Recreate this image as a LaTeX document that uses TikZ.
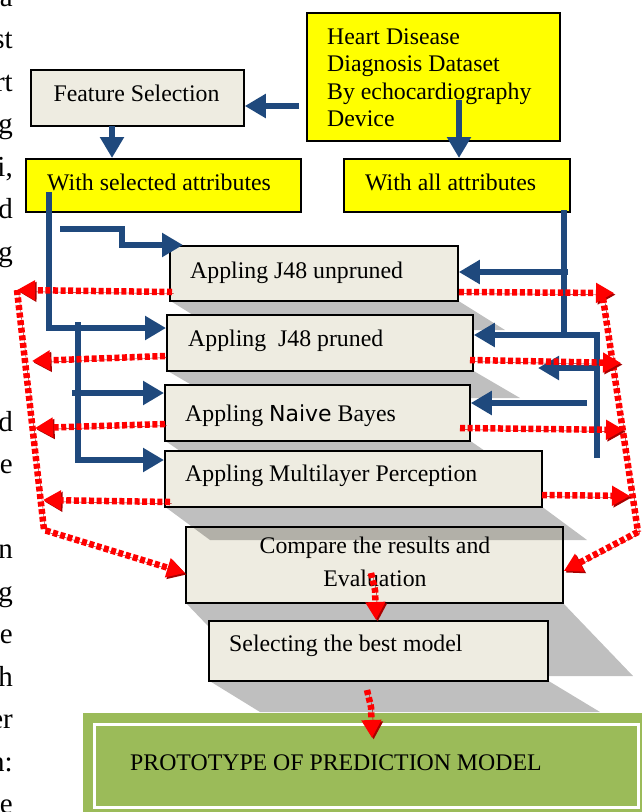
\documentclass[tikz,border=0pt]{standalone}
\usepackage{fontspec}
\setmainfont{Liberation Serif}
\newfontfamily\naivefont{DejaVu Sans}
\usetikzlibrary{arrows.meta}
\definecolor{beige}{HTML}{EEECE1}
\definecolor{yel}{HTML}{FFFF00}
\definecolor{myblue}{HTML}{1F497D}
\definecolor{myred}{HTML}{FF0000}
\definecolor{reddark}{HTML}{A80000}
\definecolor{mygreen}{HTML}{9BBB59}
\begin{document}
\begin{tikzpicture}[x=1pt,y=-1pt,
  font=\fontsize{23.8}{27.2}\selectfont,
  boxbase/.style={draw=black, line width=1.8pt, anchor=north west, inner sep=0pt},
  beigebox/.style={boxbase, fill=beige},
  yelbox/.style={boxbase, fill=yel},
  txt/.style={inner sep=0pt, anchor=base west},
  frag/.style={inner sep=0pt, anchor=base east, font=\fontsize{29}{34}\selectfont},
  shadowfill/.style={fill=black, fill opacity=0.25, draw=none},
  bline/.style={draw=myblue, line width=6.5pt},
  barrow/.style={bline, -{Triangle[length=21pt,width=23pt]}},
  reddot/.style={draw=myred, line width=6.5pt, dash pattern=on 5pt off 2.6pt,
     preaction={draw=reddark, transform canvas={shift={(1.6pt,-1.6pt)}}}},
  redarrow/.style={reddot, -{Triangle[length=18pt,width=19pt]}}
]
\useasboundingbox (0,0) rectangle (641,812);

% cut-off page text at the left margin
\foreach \t/\n [count=\i] in {a/0,st/1,rt/2,g/3,{i,}/4,d/5,g/6,d/10,e/11,n/13,g/14,e/15,h/16,er/17,{n:}/18,e/19}
  \node[frag] (frag\i) at (13,{6+42.5*\n}) {\t};

% top boxes
\node[yelbox, minimum width=253, minimum height=128] (hd) at (306,12) {};
\node[inner sep=0pt, anchor=north west, align=left] (hdt) at (327,28.7)
  {Heart Disease\\Diagnosis Dataset\\By echocardiography\\Device};
\node[beigebox, minimum width=213, minimum height=56] (fs) at (30,69) {};
\node[inner sep=0pt, anchor=base] (fst) at (136.5,101.5) {Feature Selection};
\node[yelbox, minimum width=275, minimum height=53] (ws) at (25,158) {};
\node[txt] (wst) at (47,190) {With selected attributes};
\node[yelbox, minimum width=226, minimum height=53] (wa) at (343,158) {};
\node[txt] (wat) at (365,190) {With all attributes};

% algorithm boxes with shadows
\fill[shadowfill] (169,300) -- (457,300) -- (505,330) -- (217,330) -- cycle;
\node[beigebox, minimum width=288, minimum height=55] (j1) at (169,245) {};
\node[txt] (j1t) at (190,278) {Appling J48 unpruned};

\fill[shadowfill] (166,370) -- (472,370) -- (520,398) -- (214,398) -- cycle;
\node[beigebox, minimum width=306, minimum height=56] (j2) at (166,314) {};
\node[txt] (j2t) at (188,346.5) {Appling\ \ J48 pruned};

\fill[shadowfill] (164,440) -- (469,440) -- (517,473) -- (212,473) -- cycle;
\node[beigebox, minimum width=305, minimum height=56] (nb) at (164,384) {};
\node[txt] (nbt) at (185,421.5) {Appling {\naivefont\fontsize{22}{26}\selectfont Naive} Bayes};

\fill[shadowfill] (185,602) -- (562,602) -- (633,676) -- (256,676) -- cycle;
\node[beigebox, minimum width=377, minimum height=76] (cmp) at (185,526) {};
\node[inner sep=0pt, anchor=north, align=center, font=\fontsize{23.8}{33}\selectfont] (cmpt) at (375,536.7)
  {Compare the results and\\Evaluation};

\fill[shadowfill] (164,506) -- (541,506) -- (587,540) -- (210,540) -- cycle;
\node[beigebox, minimum width=377, minimum height=56] (ml) at (164,450) {};
\node[txt] (mlt) at (185,481.5) {Appling Multilayer Perception};

\fill[shadowfill] (208,680) -- (547,680) -- (600,712) -- (260,712) -- cycle;
\node[beigebox, minimum width=339, minimum height=60] (sel) at (208,620) {};
\node[txt] (selt) at (229,651.5) {Selecting the best model};

% prototype box
\node[fill=mygreen, draw=none, anchor=north west, minimum width=570, minimum height=110, inner sep=0pt] (proto) at (83,713) {};
\node[draw=white, line width=3pt, anchor=north west, minimum width=544, minimum height=83, inner sep=0pt] (protoin) at (93,723) {};
\node[txt] (protot) at (130,770.5) {PROTOTYPE OF PREDICTION MODEL};

% blue connectors
\coordinate (a1) at (299,106);
\draw[barrow] (a1) -- (a1 -| fs.east);
\coordinate (a2) at (112,126);
\draw[barrow] (a2) -- (a2 |- ws.north);
\coordinate (a3) at (459,100);
\draw[barrow] (a3) -- (a3 |- wa.north);
\coordinate (a4) at (49,192);
\coordinate (a4c) at (49,328);
\draw[barrow] (a4) -- (a4c) -- (a4c -| j2.west);
\coordinate (a5) at (60,229);
\coordinate (a5e) at (183,245);
\draw[barrow] (a5) -- (122,229) -- (122,245) -- (a5e);
\coordinate (a6) at (78,322);
\coordinate (a6c) at (78,460);
\draw[barrow] (a6) -- (a6c) -- (a6c -| ml.west);
\coordinate (a7) at (72,393);
\draw[barrow] (a7) -- (a7 -| nb.west);
\coordinate (r1) at (564,210);
\coordinate (r1e) at (564,334);
\draw[bline] (r1) -- (r1e);
\coordinate (r2) at (568,272);
\draw[barrow] (r2) -- (r2 -| j1.east);
\coordinate (r3) at (597,458);
\coordinate (r3c) at (597,335);
\draw[barrow] (r3) -- (r3c) -- (r3c -| j2.east);
\coordinate (r4) at (597,368);
\coordinate (r4e) at (538,368);
\draw[barrow] (r4) -- (r4e);
\coordinate (r5) at (587,403);
\draw[barrow] (r5) -- (r5 -| nb.east);

% red dotted connectors
\coordinate (lt) at (17,290);
\coordinate (lb) at (44,530);
\coordinate (lc) at (100,573);
\draw[redarrow] (172,292) -- (lt);
\draw[redarrow] (lt) -- (lb) -- (lc -| cmp.west);
\coordinate (l2) at (32,361);
\draw[redarrow] (165,356) -- (l2);
\coordinate (l3) at (35,428);
\draw[redarrow] (165,424) -- (l3);
\coordinate (l4) at (43,500);
\draw[redarrow] (170,502) -- (l4);

\coordinate (rt) at (614,293);
\coordinate (rb) at (638,532);
\coordinate (rc) at (600,571);
\draw[redarrow] (459,292) -- (rt);
\draw[reddot] (603,298) -- (rb);
\draw[redarrow] (rb) -- (rc -| cmp.east);
\coordinate (rr2) at (621,363);
\draw[redarrow] (470,360) -- (rr2);
\coordinate (rr3) at (624,430);
\draw[redarrow] (460,428) -- (rr3);
\coordinate (rr4) at (630,496);
\draw[redarrow] (542,495) -- (rr4);

\coordinate (v1) at (371,573);
\coordinate (v1e) at (376,620);
\draw[redarrow] (v1) -- (375,590) -- (v1e |- sel.north);
\coordinate (v2) at (367,690);
\coordinate (v2e) at (372,738);
\draw[redarrow] (v2) -- (371,707) -- (v2e);
\end{tikzpicture}
\end{document}
